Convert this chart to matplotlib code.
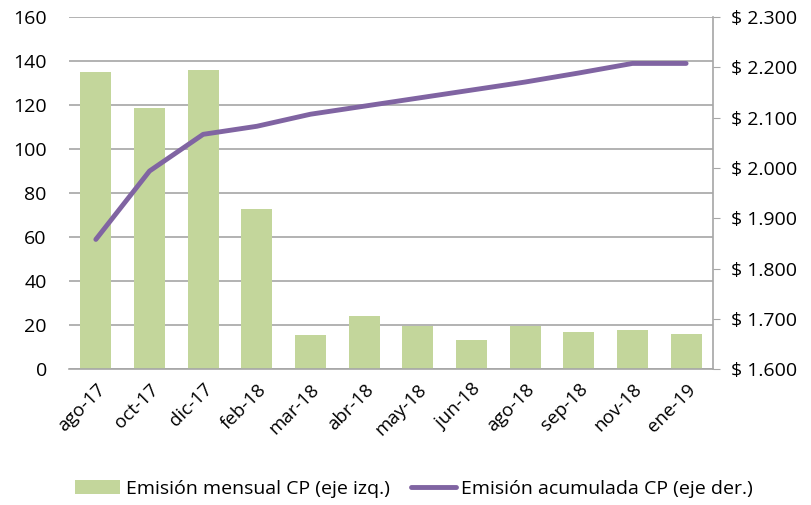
import matplotlib
matplotlib.use("Agg")
import matplotlib.pyplot as plt
import matplotlib.ticker as mticker
import numpy as np

categories = ["ago-17", "oct-17", "dic-17", "feb-18", "mar-18", "abr-18",
              "may-18", "jun-18", "ago-18", "sep-18", "nov-18", "ene-19"]
monthly = [135.1, 118.6, 135.9, 73.0, 15.5, 24.1, 19.5, 13.2, 19.5, 17.0, 17.7, 16.2]
cumulative = [1858, 1994, 2067, 2083, 2107, 2123, 2139, 2155, 2171, 2189, 2208, 2208]

plt.rcParams['font.family'] = ['Open Sans', 'DejaVu Sans']

fig = plt.figure(figsize=(8.12, 5.05), dpi=100)
ax = fig.add_axes([0.085, 0.269, 0.793, 0.697])
x = np.arange(len(categories))
ax.bar(x, monthly, width=0.58, color="#C3D69B", zorder=2, label="Emisión mensual CP (eje izq.)")
ax.set_ylim(0, 160)
ax.set_yticks(np.arange(0, 161, 20))
ax.set_xlim(-0.5, len(categories) - 0.5)
ax.set_xticks(x)
ax.set_xticklabels(categories, rotation=45, ha="right", rotation_mode="anchor", fontsize=13.5)
ax.tick_params(axis="y", length=0, labelsize=14, pad=16)
ax.tick_params(axis="x", length=0, pad=8)
ax.grid(axis="y", color="#A6A6A6", linewidth=1.2, zorder=0)
for s in ["left", "top", "right"]:
    ax.spines[s].set_visible(False)
ax.spines["bottom"].set_color("#A6A6A6")
ax.spines["bottom"].set_linewidth(1.2)

ax2 = ax.twinx()
ax2.plot(x, cumulative, color="#8064A2", linewidth=3.5, solid_capstyle="round", zorder=3,
         label="Emisión acumulada CP (eje der.)")
ax2.set_ylim(1600, 2300)
ax2.set_yticks(np.arange(1600, 2301, 100))
ax2.yaxis.set_major_formatter(mticker.FuncFormatter(lambda v, p: "$ " + f"{int(v):,}".replace(",", ".")))
ax2.tick_params(axis="y", length=5, color="#A6A6A6", labelsize=14, pad=8)
for s in ["left", "top", "bottom"]:
    ax2.spines[s].set_visible(False)
ax2.spines["right"].set_color("#A6A6A6")
ax2.spines["right"].set_linewidth(1.2)

h1, l1 = ax.get_legend_handles_labels()
h2, l2 = ax2.get_legend_handles_labels()
fig.legend(h1 + h2, l1 + l2, loc="lower center", bbox_to_anchor=(0.51, -0.02), ncol=2,
           frameon=False, fontsize=14, handlelength=2.3, handletextpad=0.3, columnspacing=1.1)

fig.savefig("out.png", dpi=100)
